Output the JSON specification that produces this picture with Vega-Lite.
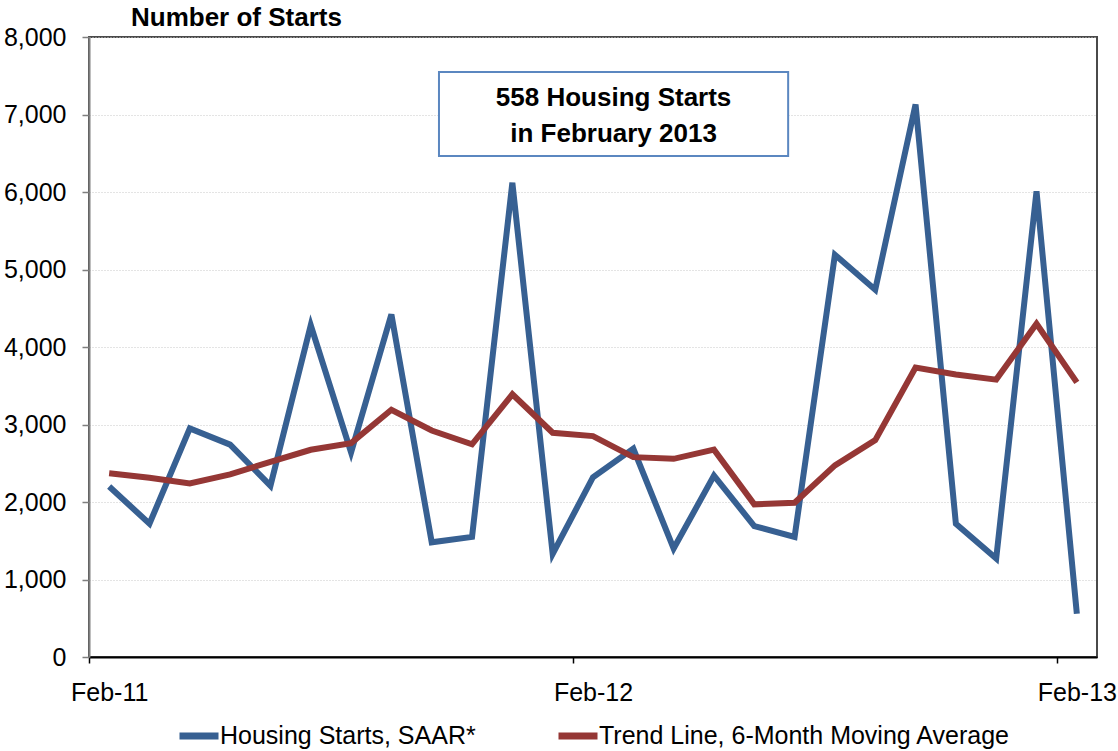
{
  "$schema": "https://vega.github.io/schema/vega-lite/v6.json",
  "width": 1008,
  "height": 620,
  "autosize": {"type": "none"},
  "padding": {"left": 89, "top": 37, "right": 21, "bottom": 94},
  "background": "white",
  "config": {
    "font": "Liberation Sans",
    "view": {"stroke": "#4a4a4a", "strokeWidth": 2}
  },
  "title": {
    "text": "Number of Starts",
    "anchor": "start",
    "frame": "group",
    "dx": 42,
    "offset": -6,
    "fontSize": 26,
    "fontWeight": "bold",
    "color": "black",
    "font": "Liberation Sans"
  },
  "datasets": {
    "series": [
      {"month": "Feb-11", "series": "Housing Starts, SAAR*", "value": 2200},
      {"month": "Mar-11", "series": "Housing Starts, SAAR*", "value": 1720},
      {"month": "Apr-11", "series": "Housing Starts, SAAR*", "value": 2950},
      {"month": "May-11", "series": "Housing Starts, SAAR*", "value": 2740},
      {"month": "Jun-11", "series": "Housing Starts, SAAR*", "value": 2210},
      {"month": "Jul-11", "series": "Housing Starts, SAAR*", "value": 4280},
      {"month": "Aug-11", "series": "Housing Starts, SAAR*", "value": 2640},
      {"month": "Sep-11", "series": "Housing Starts, SAAR*", "value": 4420},
      {"month": "Oct-11", "series": "Housing Starts, SAAR*", "value": 1480},
      {"month": "Nov-11", "series": "Housing Starts, SAAR*", "value": 1550},
      {"month": "Dec-11", "series": "Housing Starts, SAAR*", "value": 6120},
      {"month": "Jan-12", "series": "Housing Starts, SAAR*", "value": 1330},
      {"month": "Feb-12", "series": "Housing Starts, SAAR*", "value": 2320},
      {"month": "Mar-12", "series": "Housing Starts, SAAR*", "value": 2690},
      {"month": "Apr-12", "series": "Housing Starts, SAAR*", "value": 1400},
      {"month": "May-12", "series": "Housing Starts, SAAR*", "value": 2340},
      {"month": "Jun-12", "series": "Housing Starts, SAAR*", "value": 1690},
      {"month": "Jul-12", "series": "Housing Starts, SAAR*", "value": 1550},
      {"month": "Aug-12", "series": "Housing Starts, SAAR*", "value": 5190},
      {"month": "Sep-12", "series": "Housing Starts, SAAR*", "value": 4740},
      {"month": "Oct-12", "series": "Housing Starts, SAAR*", "value": 7130},
      {"month": "Nov-12", "series": "Housing Starts, SAAR*", "value": 1720},
      {"month": "Dec-12", "series": "Housing Starts, SAAR*", "value": 1270},
      {"month": "Jan-13", "series": "Housing Starts, SAAR*", "value": 6010},
      {"month": "Feb-13", "series": "Housing Starts, SAAR*", "value": 558},
      {"month": "Feb-11", "series": "Trend Line, 6-Month Moving Average", "value": 2370},
      {"month": "Mar-11", "series": "Trend Line, 6-Month Moving Average", "value": 2314},
      {"month": "Apr-11", "series": "Trend Line, 6-Month Moving Average", "value": 2240},
      {"month": "May-11", "series": "Trend Line, 6-Month Moving Average", "value": 2357},
      {"month": "Jun-11", "series": "Trend Line, 6-Month Moving Average", "value": 2518},
      {"month": "Jul-11", "series": "Trend Line, 6-Month Moving Average", "value": 2674},
      {"month": "Aug-11", "series": "Trend Line, 6-Month Moving Average", "value": 2760},
      {"month": "Sep-11", "series": "Trend Line, 6-Month Moving Average", "value": 3190},
      {"month": "Oct-11", "series": "Trend Line, 6-Month Moving Average", "value": 2923},
      {"month": "Nov-11", "series": "Trend Line, 6-Month Moving Average", "value": 2745},
      {"month": "Dec-11", "series": "Trend Line, 6-Month Moving Average", "value": 3390},
      {"month": "Jan-12", "series": "Trend Line, 6-Month Moving Average", "value": 2893},
      {"month": "Feb-12", "series": "Trend Line, 6-Month Moving Average", "value": 2850},
      {"month": "Mar-12", "series": "Trend Line, 6-Month Moving Average", "value": 2579},
      {"month": "Apr-12", "series": "Trend Line, 6-Month Moving Average", "value": 2557},
      {"month": "May-12", "series": "Trend Line, 6-Month Moving Average", "value": 2675},
      {"month": "Jun-12", "series": "Trend Line, 6-Month Moving Average", "value": 1970},
      {"month": "Jul-12", "series": "Trend Line, 6-Month Moving Average", "value": 1990},
      {"month": "Aug-12", "series": "Trend Line, 6-Month Moving Average", "value": 2473},
      {"month": "Sep-12", "series": "Trend Line, 6-Month Moving Average", "value": 2798},
      {"month": "Oct-12", "series": "Trend Line, 6-Month Moving Average", "value": 3735},
      {"month": "Nov-12", "series": "Trend Line, 6-Month Moving Average", "value": 3646},
      {"month": "Dec-12", "series": "Trend Line, 6-Month Moving Average", "value": 3579},
      {"month": "Jan-13", "series": "Trend Line, 6-Month Moving Average", "value": 4300},
      {"month": "Feb-13", "series": "Trend Line, 6-Month Moving Average", "value": 3543}
    ]
  },
  "layer": [
    {
      "data": {"name": "series"},
      "mark": {"type": "line", "strokeWidth": 6, "strokeJoin": "miter"},
      "encoding": {
        "x": {
          "field": "month",
          "type": "ordinal",
          "sort": ["Feb-11","Mar-11","Apr-11","May-11","Jun-11","Jul-11","Aug-11","Sep-11","Oct-11","Nov-11","Dec-11","Jan-12","Feb-12","Mar-12","Apr-12","May-12","Jun-12","Jul-12","Aug-12","Sep-12","Oct-12","Nov-12","Dec-12","Jan-13","Feb-13"],
          "scale": {"type": "point", "padding": 0.5},
          "axis": {
            "values": ["Feb-11", "Feb-12", "Feb-13"],
            "title": null,
            "labelAngle": 0,
            "tickOffset": -20.16,
            "labelOffset": 20.16,
            "labelFontSize": 25,
            "labelFont": "Liberation Sans",
            "labelColor": "black",
            "labelPadding": 17,
            "tickSize": 6,
            "tickColor": "black",
            "tickWidth": 1.5,
            "domainColor": "black",
            "domainWidth": 2,
            "grid": false
          }
        },
        "y": {
          "field": "value",
          "type": "quantitative",
          "scale": {"domain": [0, 8000], "nice": false},
          "axis": {
            "values": [0, 1000, 2000, 3000, 4000, 5000, 6000, 7000, 8000],
            "format": ",.0f",
            "title": null,
            "labelFontSize": 25,
            "labelFont": "Liberation Sans",
            "labelColor": "black",
            "labelPadding": 16,
            "tickSize": 7,
            "tickColor": "#7f7f7f",
            "tickWidth": 1.5,
            "domainColor": "#7f7f7f",
            "domainWidth": 2,
            "grid": true,
            "gridColor": "#c8c8c8",
            "gridDash": [1, 2],
            "gridWidth": 1
          }
        },
        "color": {
          "field": "series",
          "type": "nominal",
          "scale": {
            "domain": ["Housing Starts, SAAR*", "Trend Line, 6-Month Moving Average"],
            "range": ["#376092", "#953735"]
          },
          "legend": {
            "orient": "none",
            "legendX": 87,
            "legendY": 676,
            "direction": "horizontal",
            "title": null,
            "padding": 0,
            "symbolType": "stroke",
            "symbolSize": 1521,
            "symbolStrokeWidth": 7,
            "labelFontSize": 25,
            "labelFont": "Liberation Sans",
            "labelColor": "black",
            "labelOffset": -2,
            "labelLimit": 800,
            "columnPadding": 68
          }
        }
      }
    },
    {
      "data": {"values": [{}]},
      "mark": {"type": "rect", "fill": "white", "stroke": "#5b87c0", "strokeWidth": 2},
      "encoding": {
        "x": {"datum": 8.68, "type": "quantitative", "scale": {"domain": [0, 25]}, "axis": null},
        "x2": {"datum": 17.34},
        "y": {"datum": 7548, "type": "quantitative", "scale": {"domain": [0, 8000], "nice": false}},
        "y2": {"datum": 6465}
      }
    },
    {
      "data": {"values": [{}]},
      "mark": {
        "type": "text",
        "text": ["558 Housing Starts", "in February 2013"],
        "lineHeight": 36,
        "fontSize": 26,
        "fontWeight": "bold",
        "font": "Liberation Sans",
        "color": "black",
        "align": "center",
        "baseline": "middle"
      },
      "encoding": {
        "x": {"datum": 13.01, "type": "quantitative", "scale": {"domain": [0, 25]}, "axis": null},
        "y": {"datum": 7219, "type": "quantitative", "scale": {"domain": [0, 8000], "nice": false}}
      }
    }
  ],
  "resolve": {"scale": {"x": "independent"}}
}
